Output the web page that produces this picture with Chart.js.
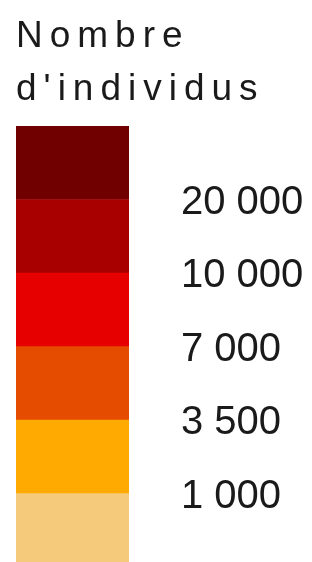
<!DOCTYPE html>
<html>
<head>
<meta charset="utf-8">
<script src="https://cdn.jsdelivr.net/npm/chart.js@4"></script>
<style>
    html, body { margin: 0; padding: 0; background: #fff; overflow: hidden; }
    canvas { display: block; }
</style>
</head>
<body>
<canvas id="legende" width="312" height="562"></canvas>
<script>
//--|donnees|--//
const titre = ["Nombre", "d'individus"];
const classes = ["< 1 000", "1 000 - 3 500", "3 500 - 7 000", "7 000 - 10 000", "10 000 - 20 000", "> 20 000"];
const hauteurs = [1, 1, 1, 1, 1, 1];
const seuils = ["1 000", "3 500", "7 000", "10 000", "20 000"];
const couleurs = ["#f5ca7a", "#ffaa00", "#e64c00", "#e60000", "#a80000", "#700000"];

//--|titre avec espacement des lettres|--//
const titrePlugin = {
    id: "titreLegende",
    afterDraw(chart) {
        const ctx = chart.ctx;
        ctx.save();
        ctx.font = "37px 'Liberation Sans'";
        ctx.fillStyle = "#1a1a1a";
        ctx.textBaseline = "alphabetic";
        ctx.letterSpacing = "7px";
        ctx.fillText(titre[0], 16, 47);
        ctx.fillText(titre[1], 16, 100);
        ctx.restore();
    }
};

const ctx = document.getElementById("legende").getContext("2d");
new Chart(ctx, {
    type: "bar",
    data: {
        labels: ["classes"],
        datasets: classes.map((nom, i) => ({
            label: nom,
            data: [hauteurs[i]],
            backgroundColor: couleurs[i],
            borderWidth: 0,
            barPercentage: 1,
            categoryPercentage: 1
        }))
    },
    options: {
        responsive: false,
        animation: false,
        layout: { padding: { top: 126, left: 16, right: 0, bottom: 0 } },
        plugins: {
            legend: { display: false },
            tooltip: { enabled: false },
            title: { display: false }
        },
        scales: {
            x: { stacked: true, display: false },
            y: {
                stacked: true,
                position: "right",
                min: 0.07,
                max: 6,
                grid: { display: false, drawTicks: false },
                border: { display: false },
                afterBuildTicks: scale => {
                    scale.ticks = seuils.map((s, i) => ({ value: i + 1 }));
                },
                afterFit: scale => {
                    scale.width = 183;
                    scale.paddingTop = 0;
                    scale.paddingBottom = 0;
                },
                ticks: {
                    padding: 52,
                    labelOffset: 3,
                    color: "#1a1a1a",
                    font: { family: "'Liberation Sans'", size: 40 },
                    callback: (v) => seuils[v - 1] || ""
                }
            }
        }
    },
    plugins: [titrePlugin]
});
</script>
</body>
</html>
